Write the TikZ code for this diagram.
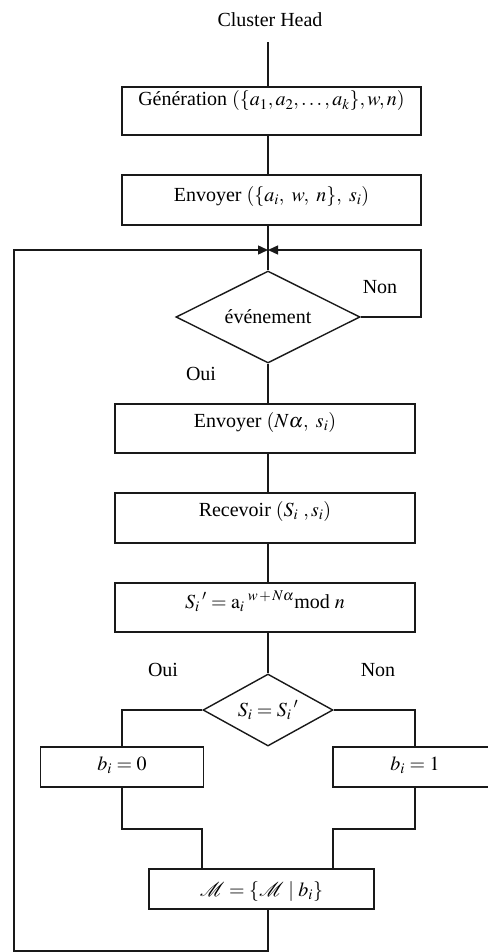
\documentclass[tikz,border=0pt]{standalone}
\usepackage{mathptmx}
\usepackage[no-math]{fontspec}
\setmainfont{Liberation Serif}
\usetikzlibrary{shapes.geometric,arrows.meta}

\begin{document}
\begin{tikzpicture}[
  x=1pt, y=-1pt,
  every node/.style={font=\fontsize{20}{24}\selectfont},
  line/.style={draw=black!90, line width=1.4pt},
  arr/.style={line, -{Triangle[length=10pt,width=9pt]}},
  stepbox/.style={line, rectangle, inner xsep=0pt, inner ysep=0pt, fill=white},
  testbox/.style={line, diamond, inner sep=0pt, fill=white},
  lbl/.style={inner sep=1pt}
]
\useasboundingbox (0,0) rectangle (487,952);
\fill[white] (0,0) rectangle (487,952);

% process steps
\node[lbl] (head) at (270,20) {Cluster Head};
\node[stepbox, minimum width=299pt, text height=19pt, text depth=29pt] (gen) at (271.5,111)
  {G\'en\'eration $(\{a_1, a_2, \ldots, a_k\}, w, n)$};
\node[stepbox, minimum width=299pt, text height=26pt, text depth=24pt] (env1) at (271.5,200)
  {Envoyer $(\{a_i,\ w,\ n\},\ s_i)$};
\node[testbox, minimum width=184pt, minimum height=92pt, aspect=2] (d1) at (268,317) {\'ev\'enement};
\node[stepbox, minimum width=300pt, text height=23pt, text depth=26pt] (env2) at (265,428.5)
  {Envoyer $(N\alpha,\ s_i)$};
\node[stepbox, minimum width=300pt, text height=23pt, text depth=27pt] (recv) at (265,518)
  {Recevoir $(S_i\ ,s_i)$};
\node[stepbox, minimum width=300pt, text height=25pt, text depth=24pt] (comp) at (265,607.5)
  {$S_i{}\,' = \mathrm{a}_i{}^{\;w\,+\,N\alpha}$mod $n$};
\node[testbox, minimum width=130pt, minimum height=72pt, aspect=1.8] (d2) at (268,710) {$S_i = S_i{}\,'$};
\node[stepbox, minimum width=163pt, text height=23pt, text depth=17pt] (b0) at (122,767) {$b_i = 0$};
\node[stepbox, minimum width=164pt, text height=23pt, text depth=17pt] (b1) at (415,767) {$b_i = 1$};
\node[stepbox, minimum width=225pt, text height=27pt, text depth=13pt] (M) at (261.5,889)
  {$\mathcal{M} = \{\mathcal{M}\mid b_i\}$};

% branch labels
\node[lbl] (non1) at (380,287) {Non};
\node[lbl] (oui1) at (201,374) {Oui};
\node[lbl] (oui2) at (163,670) {Oui};
\node[lbl] (non2) at (378,670) {Non};

% junction and loop corners
\coordinate (t0) at (268,250);
\coordinate (rloop) at (421,250);
\coordinate (lloop) at (14,250);
\coordinate (bl) at (268,951);
\coordinate (ml) at (202,829);
\coordinate (mr) at (333,829);

% main flow
\draw[line, shorten <=14pt] (head.south -| t0) -- (gen.north -| t0);
\draw[line] (gen.south -| t0) -- (env1.north -| t0);
\draw[line] (env1.south -| t0) -- (d1.north);
\draw[line] (d1.south) -- (env2.north -| d1.south);
\draw[line] (env2.south -| t0) -- (recv.north -| t0);
\draw[line] (recv.south -| t0) -- (comp.north -| t0);
\draw[line] (comp.south -| d2.north) -- (d2.north);

% decision branches
\draw[line] (d2.west) -| (b0.north);
\draw[line] (d2.east) -| (b1.north);
\draw[line] (b0.south) |- (ml) -- (ml |- M.north);
\draw[line] (b1.south) |- (mr) -- (mr |- M.north);

% loops back to the event test
\draw[arr] (d1.east) -| (rloop) -- (t0);
\draw[arr] (M.south -| bl) -- (bl) -| (lloop) -- (t0);
\end{tikzpicture}
\end{document}
